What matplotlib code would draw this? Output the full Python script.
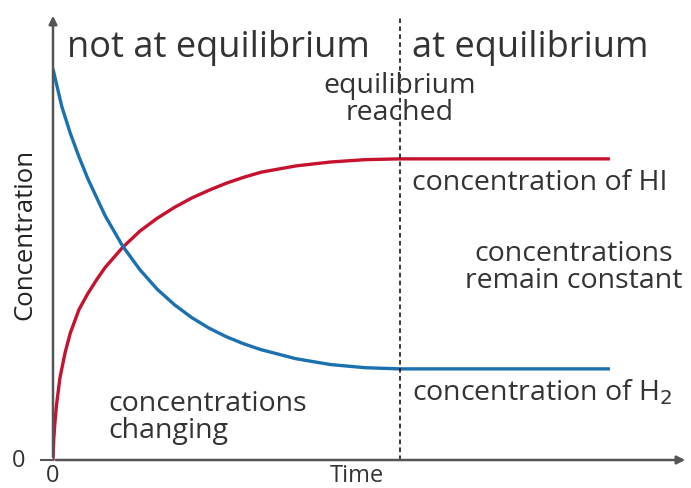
import numpy as np
import matplotlib.pyplot as plt

plt.rcParams['font.family'] = ['Open Sans', 'DejaVu Sans']

# values (time in arbitrary units, equilibrium at t=10)
h2_time = [0, 0.25, 0.5, 0.75, 1.0, 1.5, 2.0, 2.5, 3.0, 3.5, 4.0, 4.5, 5.0,
           5.5, 6.0, 7.0, 8.0, 9.0, 10, 16.05]
h2_conc = [1.0, 0.905, 0.835, 0.775, 0.72, 0.625, 0.548, 0.487, 0.437, 0.397,
           0.364, 0.337, 0.315, 0.297, 0.282, 0.259, 0.244, 0.236, 0.233, 0.233]
hi_time = [0, 0.02, 0.05, 0.1, 0.2, 0.35, 0.5, 0.75, 1.0, 1.25, 1.5, 2.0, 2.5,
           3.0, 3.5, 4.0, 4.5, 5.0, 5.5, 6.0, 7.0, 8.0, 9.0, 10, 16.05]
hi_conc = [0, 0.05, 0.09, 0.14, 0.21, 0.275, 0.325, 0.385, 0.425, 0.46, 0.492,
           0.543, 0.585, 0.618, 0.646, 0.670, 0.690, 0.708, 0.723, 0.736, 0.752,
           0.762, 0.768, 0.770, 0.770]
t_equilibrium = 10

blue = '#1b70b0'
red = '#c5122f'
grey = '#555555'

fig = plt.figure(figsize=(6.91, 4.89), dpi=100)
ax = fig.add_axes([53 / 691, 28 / 489, 635 / 691, 447 / 489])
ax.set_xlim(0, 18.3)
ax.set_ylim(0, 1.143)
for s in ax.spines.values():
    s.set_visible(False)
ax.set_xticks([])
ax.set_yticks([])

# axes with arrow heads
ax.annotate('', xy=(1, 0), xytext=(0, 0), xycoords='axes fraction',
            arrowprops=dict(arrowstyle='-|>', color=grey, lw=1.8, mutation_scale=12))
ax.annotate('', xy=(0, 1), xytext=(0, 0), xycoords='axes fraction',
            arrowprops=dict(arrowstyle='-|>', color=grey, lw=1.8, mutation_scale=12))
ax.plot([-0.35, 0], [0, 0], color=grey, lw=1.5, clip_on=False)

ax.plot(hi_time, hi_conc, color=red, lw=2.4, solid_capstyle='butt')
ax.plot(h2_time, h2_conc, color=blue, lw=2.4, solid_capstyle='butt')
ax.plot([t_equilibrium, t_equilibrium], [0, 1.133], color='black', lw=1.1,
        linestyle=(0, (3, 2.2)), clip_on=False)

ax.text(-1.0, 0, '0', fontsize=17, ha='center', va='center', color='#333333')
ax.text(0, -0.069, '0', fontsize=17, ha='center', va='bottom', color='#333333')
ax.text(8.75, -0.069, 'Time', fontsize=17, ha='center', va='bottom', color='#333333')
fig.text(25 / 691, 1 - 234 / 489, 'Concentration', fontsize=18.5, rotation=90,
         ha='center', va='center', color='#222222')

txt = dict(color='#333333', va='center')
ax.text(0.4, 1.055, 'not at equilibrium', fontsize=26, ha='left', **txt)
ax.text(10.35, 1.055, 'at equilibrium', fontsize=26, ha='left', **txt)
ax.text(10, 0.925, 'equilibrium\nreached', fontsize=20.5, ha='center', linespacing=0.95, **txt)
ax.text(10.35, 0.71, 'concentration of HI', fontsize=20.5, ha='left', **txt)
ax.text(15.0, 0.495, 'concentrations\nremain constant', fontsize=20.5, ha='center',
        linespacing=0.95, **txt)
ax.text(10.35, 0.175, 'concentration of H$_2$', fontsize=20.5, ha='left', **txt)
ax.text(1.6, 0.112, 'concentrations\nchanging', fontsize=20.5, ha='left',
        linespacing=0.95, **txt)

fig.savefig('out.png', dpi=100)
